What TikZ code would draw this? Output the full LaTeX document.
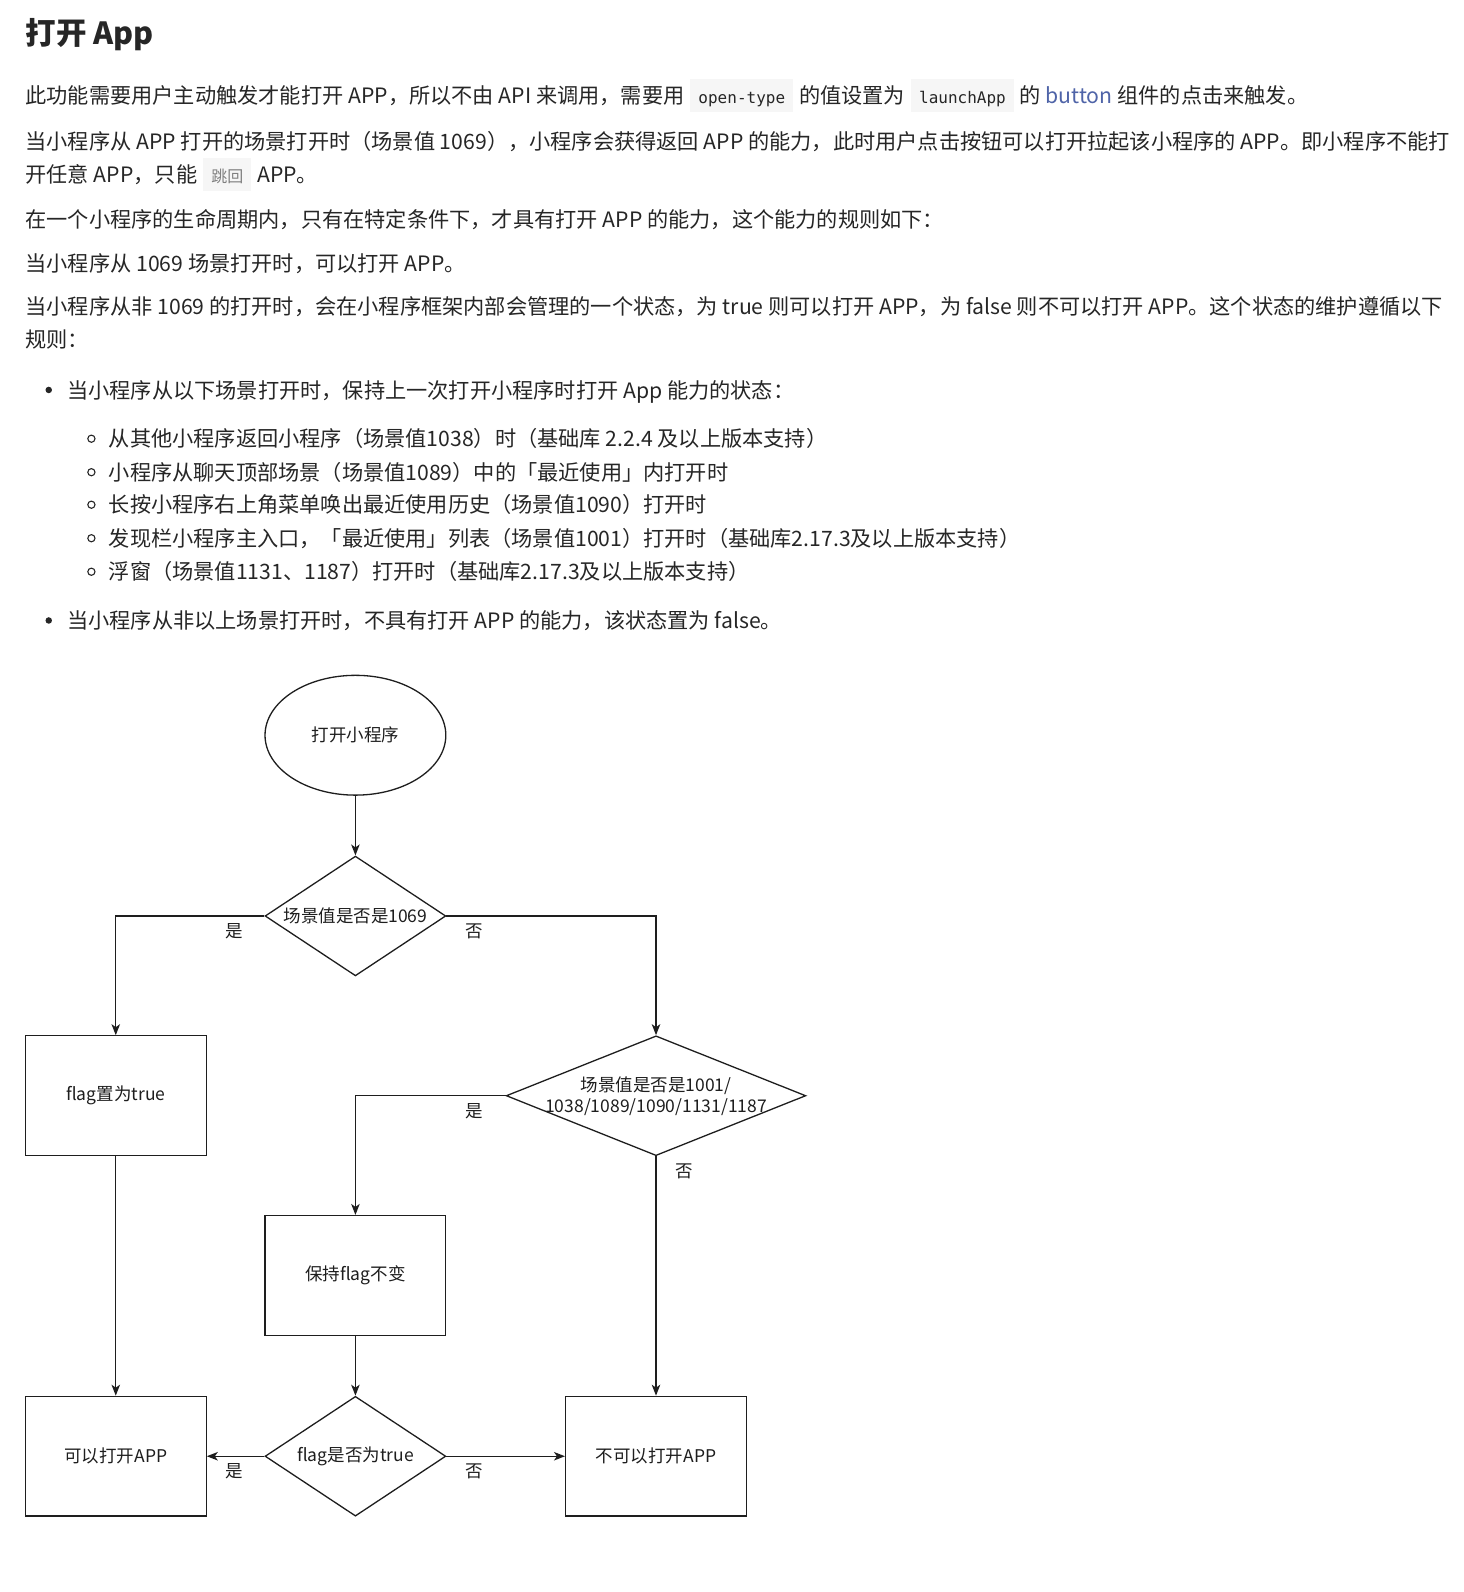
\documentclass[tikz,border=0pt]{standalone}
\usepackage{fontspec}
\setmainfont{Noto Sans CJK SC}
\newfontfamily\monof{DejaVu Sans Mono}
\usetikzlibrary{shapes.geometric,arrows.meta}
\definecolor{txt}{HTML}{262626}
\definecolor{codebg}{HTML}{F6F6F6}
\definecolor{linkc}{HTML}{4F64A8}
\definecolor{fc}{HTML}{1E1E1E}
\newcommand{\codespan}[1]{{\setlength{\fboxsep}{0pt}\colorbox{codebg}{\vrule height 24.3pt depth 8.2pt width 0pt\hspace{8pt}\monof\fontsize{16}{16}\selectfont #1\hspace{8pt}}}}
\newcommand{\codecjk}[1]{{\setlength{\fboxsep}{0pt}\colorbox{codebg}{\vrule height 24.3pt depth 8.2pt width 0pt\hspace{8pt}\color{gray}\fontsize{16}{16}\selectfont #1\hspace{8pt}}}}
\begin{document}
\begin{tikzpicture}[x=1.0155pt,y=-1.0155pt,
  body/.style={anchor=west,inner sep=0pt,text=txt,font=\fontsize{21.2}{24}\selectfont,text height=18.6pt,text depth=2.5pt},
  ttl/.style={anchor=west,inner sep=0pt,text=txt,font=\fontsize{30.5}{34}\selectfont\bfseries,text height=26.8pt,text depth=3.6pt},
  dot/.style={circle,fill=txt,inner sep=0pt,minimum size=6.5pt},
  odot/.style={circle,draw=txt,line width=1.1pt,inner sep=0pt,minimum size=7.2pt},
  fbox/.style={draw=fc,line width=1.3pt,minimum width=180.8pt,minimum height=119.8pt,inner sep=0pt,font=\fontsize{17.5}{21}\selectfont,text=fc},
  fdia/.style={diamond,draw=fc,line width=1.3pt,inner sep=0pt},
  dlab/.style={inner sep=0pt,align=center,font=\fontsize{17.5}{21}\selectfont,text=fc},
  fell/.style={ellipse,draw=fc,line width=1.3pt,minimum width=180.8pt,minimum height=119.8pt,inner sep=0pt,font=\fontsize{17.5}{21}\selectfont,text=fc},
  flab/.style={inner sep=0pt,font=\fontsize{17.5}{21}\selectfont,text=fc},
  arr/.style={draw=fc,line width=1.3pt,-{Stealth[length=11pt,width=8.5pt,inset=3pt]}}]
\useasboundingbox[fill=white] (0,0) rectangle (1440.7,1567.7);

\node[ttl] (title) at (25,32) {打开 App};
\node[body] (p1) at (25,94) {此功能需要用户主动触发才能打开 APP，所以不由 API 来调用，需要用\hspace{6pt}\codespan{open-type}\hspace{6pt}的值设置为\hspace{6pt}\codespan{launchApp}\hspace{6pt}的 \textcolor{linkc}{button} 组件的点击来触发。};
\node[body] (p2a) at (25,139) {当小程序从 APP 打开的场景打开时（场景值 1069），小程序会获得返回 APP 的能力，此时用户点击按钮可以打开拉起该小程序的 APP。即小程序不能打};
\node[body] (p2b) at (25,172) {开任意 APP，只能\hspace{6pt}\codecjk{跳回}\hspace{6pt}APP。};
\node[body] (p3) at (25,216) {在一个小程序的生命周期内，只有在特定条件下，才具有打开 APP 的能力，这个能力的规则如下：};
\node[body] (p4) at (25,259) {当小程序从 1069 场景打开时，可以打开 APP。};
\node[body] (p5a) at (25,302) {当小程序从非 1069 的打开时，会在小程序框架内部会管理的一个状态，为 true 则可以打开 APP，为 false 则不可以打开 APP。这个状态的维护遵循以下};
\node[body] (p5b) at (25,334) {规则：};

\node[dot] (b1d) at (48,384) {};
\node[body] (b1) at (66,384) {当小程序从以下场景打开时，保持上一次打开小程序时打开 App 能力的状态：};
\node[odot] (s1d) at (90,432) {};
\node[body] (s1) at (107,432) {从其他小程序返回小程序（场景值1038）时（基础库 2.2.4 及以上版本支持）};
\node[odot] (s2d) at (90,465) {};
\node[body] (s2) at (107,465) {小程序从聊天顶部场景（场景值1089）中的「最近使用」内打开时};
\node[odot] (s3d) at (90,497) {};
\node[body] (s3) at (107,497) {长按小程序右上角菜单唤出最近使用历史（场景值1090）打开时};
\node[odot] (s4d) at (90,530) {};
\node[body] (s4) at (107,530) {发现栏小程序主入口，「最近使用」列表（场景值1001）打开时（基础库2.17.3及以上版本支持）};
\node[odot] (s5d) at (90,563) {};
\node[body] (s5) at (107,563) {浮窗（场景值1131、1187）打开时（基础库2.17.3及以上版本支持）};
\node[dot] (b2d) at (48,611) {};
\node[body] (b2) at (66,611) {当小程序从非以上场景打开时，不具有打开 APP 的能力，该状态置为 false。};

% flowchart
\node[fell] (start) at (350,724) {打开小程序};
\node[fdia,minimum width=180.8pt,minimum height=119.8pt,label={[dlab]center:场景值是否是1069}] (d1) at (350,902) {};
\node[fbox] (setT) at (114,1079) {flag置为true};
\node[fdia,minimum width=299.6pt,minimum height=119.8pt,label={[dlab]center:场景值是否是1001/\\1038/1089/1090/1131/1187}] (d2) at (646,1079) {};
\node[fbox] (keep) at (350,1256) {保持flag不变};
\node[fdia,minimum width=180.8pt,minimum height=119.8pt,label={[dlab]center:flag是否为true}] (d3) at (350,1434) {};
\node[fbox] (can) at (114,1434) {可以打开APP};
\node[fbox] (cannot) at (646,1434) {不可以打开APP};

\draw[arr] (start) -- (d1);
\draw[arr] (d1.west) -| (setT.north);
\draw[arr] (d1.east) -| (d2.north);
\draw[arr] (d2.west) -| (keep.north);
\draw[arr] (d2.south) -- (cannot.north);
\draw[arr] (setT) -- (can);
\draw[arr] (keep) -- (d3);
\draw[arr] (d3.west) -- (can.east);
\draw[arr] (d3.east) -- (cannot.west);

\node[flab] (l1) at (231,917) {是};
\node[flab] (l2) at (467,917) {否};
\node[flab] (l3) at (467,1094) {是};
\node[flab] (l4) at (674,1153) {否};
\node[flab] (l5) at (231,1449) {是};
\node[flab] (l6) at (467,1449) {否};
\end{tikzpicture}
\end{document}
